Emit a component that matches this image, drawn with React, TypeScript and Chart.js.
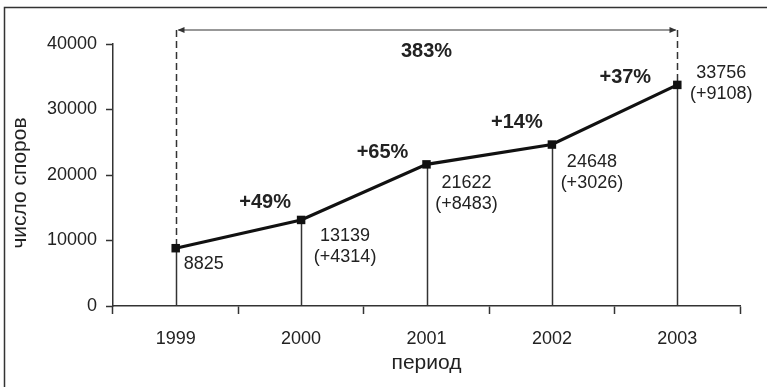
import React, { useEffect, useRef } from "react";
import { Chart, registerables } from "chart.js";

Chart.register(...registerables);

// Annual number of disputes
const years = ["1999", "2000", "2001", "2002", "2003"];
const disputes = [8825, 13139, 21622, 24648, 33756];
const increments = [null, 4314, 8483, 3026, 9108];
const growthLabels = ["+49%", "+65%", "+14%", "+37%"];
const totalGrowthLabel = "383%";
const yTickValues = [0, 10000, 20000, 30000, 40000];

const FONT = '"Liberation Sans", Arial, sans-serif';
const INK = "#222";
const AXIS = "#333";

// offsets (px) of the value labels from their point: [dx, dy of first line]
const valueLabelOffsets = [
  [28, 16],
  [44, 16],
  [40, 19],
  [40, 17],
  [44, -12],
];
// offsets (px) of growth labels from the point ending each segment
const growthLabelOffsets = [
  [-36, -17],
  [-44, -12],
  [-35, -22],
  [-52, -7],
];

const annotations = {
  id: "annotations",
  beforeDraw(chart: any) {
    const { ctx } = chart;
    ctx.save();
    ctx.strokeStyle = AXIS;
    ctx.lineWidth = 1.5;
    ctx.beginPath();
    ctx.moveTo(4.5, chart.height);
    ctx.lineTo(4.5, 7.5);
    ctx.lineTo(chart.width, 7.5);
    ctx.stroke();
    ctx.restore();
  },
  beforeDatasetsDraw(chart: any) {
    const { ctx, scales } = chart;
    const x = scales.x;
    const y = scales.y;
    const y0 = y.getPixelForValue(0);
    const topY = 30;
    ctx.save();
    // drop lines
    ctx.strokeStyle = AXIS;
    ctx.lineWidth = 1.5;
    disputes.forEach((v, i) => {
      const px = Math.round(x.getPixelForValue(i)) + 0.5;
      ctx.beginPath();
      ctx.moveTo(px, y0);
      ctx.lineTo(px, y.getPixelForValue(v));
      ctx.stroke();
    });
    // dashed guides at first and last years
    const last = disputes.length - 1;
    const xs = [0, last].map((i) => Math.round(x.getPixelForValue(i)) + 0.5);
    ctx.setLineDash([7, 4]);
    [0, last].forEach((i, k) => {
      ctx.beginPath();
      ctx.moveTo(xs[k], topY);
      ctx.lineTo(xs[k], y.getPixelForValue(disputes[i]));
      ctx.stroke();
    });
    ctx.setLineDash([]);
    // double arrow
    ctx.lineWidth = 1.2;
    ctx.beginPath();
    ctx.moveTo(xs[0] + 2, topY);
    ctx.lineTo(xs[1] - 2, topY);
    ctx.stroke();
    ctx.fillStyle = AXIS;
    ctx.beginPath();
    ctx.moveTo(xs[0] + 1, topY);
    ctx.lineTo(xs[0] + 8, topY - 3);
    ctx.lineTo(xs[0] + 8, topY + 3);
    ctx.closePath();
    ctx.fill();
    ctx.beginPath();
    ctx.moveTo(xs[1] - 1, topY);
    ctx.lineTo(xs[1] - 8, topY - 3);
    ctx.lineTo(xs[1] - 8, topY + 3);
    ctx.closePath();
    ctx.fill();
    ctx.restore();
  },
  afterDatasetsDraw(chart: any) {
    const { ctx, scales, chartArea } = chart;
    const x = scales.x;
    const y = scales.y;
    ctx.save();
    ctx.fillStyle = INK;
    ctx.textAlign = "center";
    ctx.textBaseline = "middle";
    // value labels
    ctx.font = `18px ${FONT}`;
    disputes.forEach((v, i) => {
      const px = x.getPixelForValue(i) + valueLabelOffsets[i][0];
      const py = y.getPixelForValue(v) + valueLabelOffsets[i][1];
      ctx.fillText(String(v), px, py);
      const inc = increments[i];
      if (inc !== null) ctx.fillText(`(+${inc})`, px, py + 21);
    });
    // growth labels
    ctx.font = `bold 20px ${FONT}`;
    growthLabels.forEach((t, i) => {
      const px = x.getPixelForValue(i + 1) + growthLabelOffsets[i][0];
      const py = y.getPixelForValue(disputes[i + 1]) + growthLabelOffsets[i][1];
      ctx.fillText(t, px, py);
    });
    const midX = (x.getPixelForValue(0) + x.getPixelForValue(disputes.length - 1)) / 2;
    ctx.fillText(totalGrowthLabel, midX, 51);
    // axis titles
    ctx.font = `21px ${FONT}`;
    ctx.fillText("период", (chartArea.left + chartArea.right) / 2, 363);
    ctx.translate(20, 183);
    ctx.rotate(-Math.PI / 2);
    ctx.fillText("число споров", 0, 0);
    ctx.restore();
  },
};

export default function App() {
  const ref = useRef<HTMLCanvasElement>(null);
  useEffect(() => {
    if (!ref.current) return;
    const chart = new Chart(ref.current, {
      type: "line",
      data: {
        labels: years,
        datasets: [
          {
            data: disputes,
            borderColor: "#111",
            borderWidth: 3.2,
            pointStyle: "rect",
            pointRadius: 6,
            pointBackgroundColor: "#111",
            pointBorderColor: "#111",
            pointBorderWidth: 0,
            tension: 0,
          },
        ],
      },
      options: {
        animation: false,
        responsive: false,
        layout: { padding: { top: 44, right: 27, left: 0, bottom: 0 } },
        plugins: { legend: { display: false }, tooltip: { enabled: false } },
        scales: {
          x: {
            type: "category",
            offset: true,
            grid: {
              offset: true,
              drawOnChartArea: false,
              drawTicks: true,
              tickLength: 8,
              tickWidth: 1.5,
              tickColor: AXIS,
            },
            border: { color: AXIS, width: 1.5 },
            ticks: { color: INK, font: { family: FONT, size: 18 }, padding: 14 },
            afterFit(scale: any) {
              scale.height = 81;
            },
          },
          y: {
            min: 0,
            max: 40000,
            afterBuildTicks(scale: any) {
              scale.ticks = yTickValues.map((v) => ({ value: v }));
            },
            grid: {
              drawOnChartArea: false,
              drawTicks: true,
              tickLength: 7,
              tickWidth: 1.5,
              tickColor: AXIS,
            },
            border: { color: AXIS, width: 1.5 },
            ticks: {
              color: INK,
              font: { family: FONT, size: 18 },
              padding: 9,
              callback: (v: any) => String(v),
            },
            afterFit(scale: any) {
              scale.width = 113;
            },
          },
        },
      },
      plugins: [annotations],
    });
    return () => chart.destroy();
  }, []);
  return (
    <div style={{ position: "fixed", left: 0, top: 0, width: 767, height: 387, background: "#fff" }}>
      <canvas ref={ref} width={767} height={387} />
    </div>
  );
}
